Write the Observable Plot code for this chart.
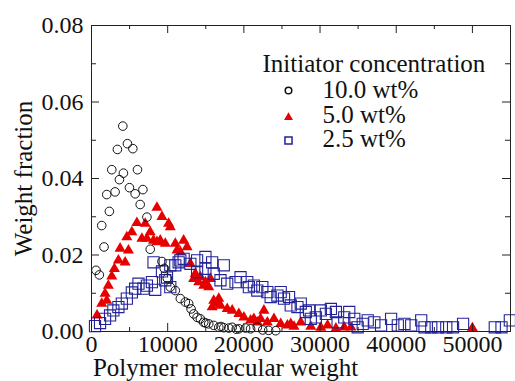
<!DOCTYPE html>
<html><head><meta charset="utf-8">
<script src="https://cdn.jsdelivr.net/npm/d3@7"></script>
<script src="https://cdn.jsdelivr.net/npm/@observablehq/plot@0.6"></script>
<style>
body{margin:0;background:#fff}
svg{display:block}
</style>
</head><body><div id="chart"></div>
<script>
// 10.0 wt% (circles)
const mw10 = [593,1028,1344,1647,2003,2345,2661,3096,3399,3663,4111,4190,4717,4980,5428,5731,6034,6390,6746,7273,7707,9249,9552,9947,10343,11001,11660,12319,12754,13070,13412,13860,14295,14730,15000,15389,16047,16706,17000,17365,18024,18472,19000,19341,20224,20882,21765,22467,23257,24179];
const wf10 = [0.0160,0.0148,0.0277,0.0221,0.0358,0.0314,0.0423,0.0365,0.0476,0.0397,0.0537,0.0414,0.0491,0.0376,0.0478,0.0360,0.0423,0.0332,0.0371,0.0299,0.0215,0.0183,0.0165,0.0139,0.0116,0.0107,0.0086,0.0077,0.0073,0.0059,0.0046,0.0037,0.0033,0.0024,0.0022,0.0020,0.0016,0.0011,0.0013,0.0010,0.0009,0.0011,0.0006,0.0007,0.0009,0.0007,0.0011,0.0004,0.0003,0.0002];
// 5.0 wt% (triangles)
const mw5 = [725,1344,1779,2003,2213,2661,3004,3531,3755,4414,4638,4848,5296,5955,6614,7048,7273,7707,8142,8590,8590,9025,9249,9684,10118,10342,11001,11225,11660,12095,12543,12977,13412,13636,14071,14295,14730,14954,15389,15612,15836,16047,16495,16706,16930,17813,18472,19341,20000,20882,21317,21765,22200,22635,23082,23953,24835,25718,26153,26588,27470,28788,30105,30988,32081,33175,34058,50000];
const wf5 = [0.0042,0.0073,0.0099,0.0081,0.0120,0.0144,0.0164,0.0186,0.0217,0.0181,0.0247,0.0212,0.0260,0.0284,0.0243,0.0282,0.0243,0.0260,0.0238,0.0324,0.0234,0.0238,0.0300,0.0230,0.0282,0.0273,0.0230,0.0212,0.0208,0.0238,0.0221,0.0177,0.0138,0.0151,0.0129,0.0142,0.0120,0.0129,0.0116,0.0138,0.0064,0.0081,0.0073,0.0086,0.0068,0.0059,0.0055,0.0046,0.0037,0.0029,0.0033,0.0024,0.0033,0.0055,0.0024,0.0033,0.0020,0.0016,0.0020,0.0013,0.0024,0.0013,0.0010,0.0016,0.0008,0.0011,0.0011,0.0009];
// 2.5 wt% (squares)
const mw25 = [461,1120,1779,2437,2872,3531,3979,4638,5296,5731,6166,6825,7273,7931,8366,8142,9249,9684,9908,10342,10342,11001,11436,11660,12095,12977,13860,13860,14954,14954,15836,16047,16930,17365,17813,18906,19565,20448,20658,21317,21765,22424,23082,23518,24400,24835,25270,25929,26153,27035,27470,28129,28564,28788,29446,30105,30764,31423,32081,32305,33175,33833,34492,34940,35599,36258,37127,38009,39327,40210,41080,41963,43280,43715,44598,45480,46573,47457,48774,52937,53820,54914];
const wf25 = [0.0014,0.0022,0.0033,0.0042,0.0055,0.0064,0.0073,0.0086,0.0102,0.0112,0.0125,0.0112,0.0120,0.0129,0.0109,0.0181,0.0157,0.0134,0.0141,0.0116,0.0173,0.0173,0.0181,0.0186,0.0190,0.0177,0.0155,0.0186,0.0195,0.0164,0.0181,0.0151,0.0134,0.0173,0.0125,0.0129,0.0142,0.0129,0.0116,0.0120,0.0107,0.0116,0.0103,0.0090,0.0094,0.0103,0.0086,0.0090,0.0068,0.0064,0.0073,0.0051,0.0055,0.0033,0.0037,0.0055,0.0046,0.0059,0.0051,0.0024,0.0037,0.0051,0.0033,0.0011,0.0020,0.0029,0.0024,0.0016,0.0033,0.0016,0.0020,0.0016,0.0029,0.0011,0.0011,0.0011,0.0011,0.0011,0.0020,0.0011,0.0011,0.0029];

const xMajor = [0,10000,20000,30000,40000,50000];
const xMinor = [5000,15000,25000,35000,45000];
const yMajor = [0,0.02,0.04,0.06,0.08];
const yMinor = [0.01,0.03,0.05,0.07];
const legendTitle = "Initiator concentration";
const legendLabels = ["10.0 wt%","5.0 wt%","2.5 wt%"];
const xTitle = "Polymer molecular weight";
const yTitle = "Weight fraction";

const red = "#e60000", blue = "#22229a";
const W = 515, H = 381, mL = 91, mR = 5, mT = 25, mB = 50;
const iW = W - mL - mR, iH = H - mT - mB;
const font = "Liberation Serif";

const pts = (xs, ys) => xs.map((x, i) => ({x, y: ys[i]}));

const marks = [
  Plot.dot(pts(mw5, wf5), {x:"x", y:"y", symbol:"triangle", r:4.1, fill:red, stroke:"none"}),
  Plot.dot(pts(mw25, wf25), {x:"x", y:"y", symbol:"square", r:6.3, fill:"none", stroke:blue, strokeWidth:1.1}),
  Plot.dot(pts(mw10, wf10), {x:"x", y:"y", symbol:"circle", r:4.3, fill:"none", stroke:"#111", strokeWidth:1}),
  Plot.frame({stroke:"#222"}),
  Plot.ruleX(xMajor, {x:d=>d, insetTop:iH-8, stroke:"#222"}),
  Plot.ruleX(xMinor, {x:d=>d, insetTop:iH-4, stroke:"#222"}),
  Plot.ruleX(xMajor, {x:d=>d, insetBottom:iH-8, stroke:"#222"}),
  Plot.ruleX(xMinor, {x:d=>d, insetBottom:iH-4, stroke:"#222"}),
  Plot.ruleY(yMajor, {y:d=>d, insetRight:iW-8, stroke:"#222"}),
  Plot.ruleY(yMinor, {y:d=>d, insetRight:iW-5, stroke:"#222"}),
  Plot.ruleY(yMajor, {y:d=>d, insetLeft:iW-8, stroke:"#222"}),
  Plot.ruleY(yMinor, {y:d=>d, insetLeft:iW-5, stroke:"#222"}),
  Plot.axisX({ticks:xMajor, tickSize:0, tickPadding:3, tickFormat:d=>String(d), label:null, fill:"#111", fontFamily:font}),
  Plot.axisY({ticks:yMajor, tickSize:0, tickPadding:8, tickFormat:d3.format(".2f"), label:null, fill:"#111", fontFamily:font}),
  Plot.text([xTitle], {text:d=>d, frameAnchor:"bottom-left", dx:134, dy:36, textAnchor:"middle", lineAnchor:"middle", fontSize:25, fill:"#111", fontFamily:font}),
  Plot.text([yTitle], {text:d=>d, frameAnchor:"left", dx:-68, rotate:-90, textAnchor:"middle", lineAnchor:"middle", fontSize:25, fill:"#111", fontFamily:font}),
  Plot.text([legendTitle], {text:d=>d, frameAnchor:"top-left", dx:171, dy:38, textAnchor:"start", lineAnchor:"middle", fontSize:25, fill:"#111", fontFamily:font})
];
const legendSym = [
  {symbol:"circle", r:3.3, fill:"none", stroke:"#111"},
  {symbol:"triangle", r:3.3, fill:red, stroke:"none"},
  {symbol:"square", r:4, fill:"none", stroke:blue}
];
const textDy = [64, 89, 113];
const symDy = [65, 92, 115];
legendLabels.forEach((lab, i) => {
  marks.push(Plot.dot([lab], {frameAnchor:"top-left", dx:197, dy:symDy[i], ...legendSym[i]}));
  marks.push(Plot.text([lab], {text:d=>d, frameAnchor:"top-left", dx:231, dy:textDy[i], textAnchor:"start", lineAnchor:"middle", fontSize:25, fill:"#111", fontFamily:font}));
});

const chart = Plot.plot({
  width: W, height: H,
  marginLeft: mL, marginRight: mR, marginTop: mT, marginBottom: mB,
  style: {fontFamily: font, fontSize: "24px", background: "#fff"},
  x: {domain: [0, 55000]},
  y: {domain: [0, 0.08]},
  marks
});
document.getElementById("chart").appendChild(chart);
</script>
</body></html>
